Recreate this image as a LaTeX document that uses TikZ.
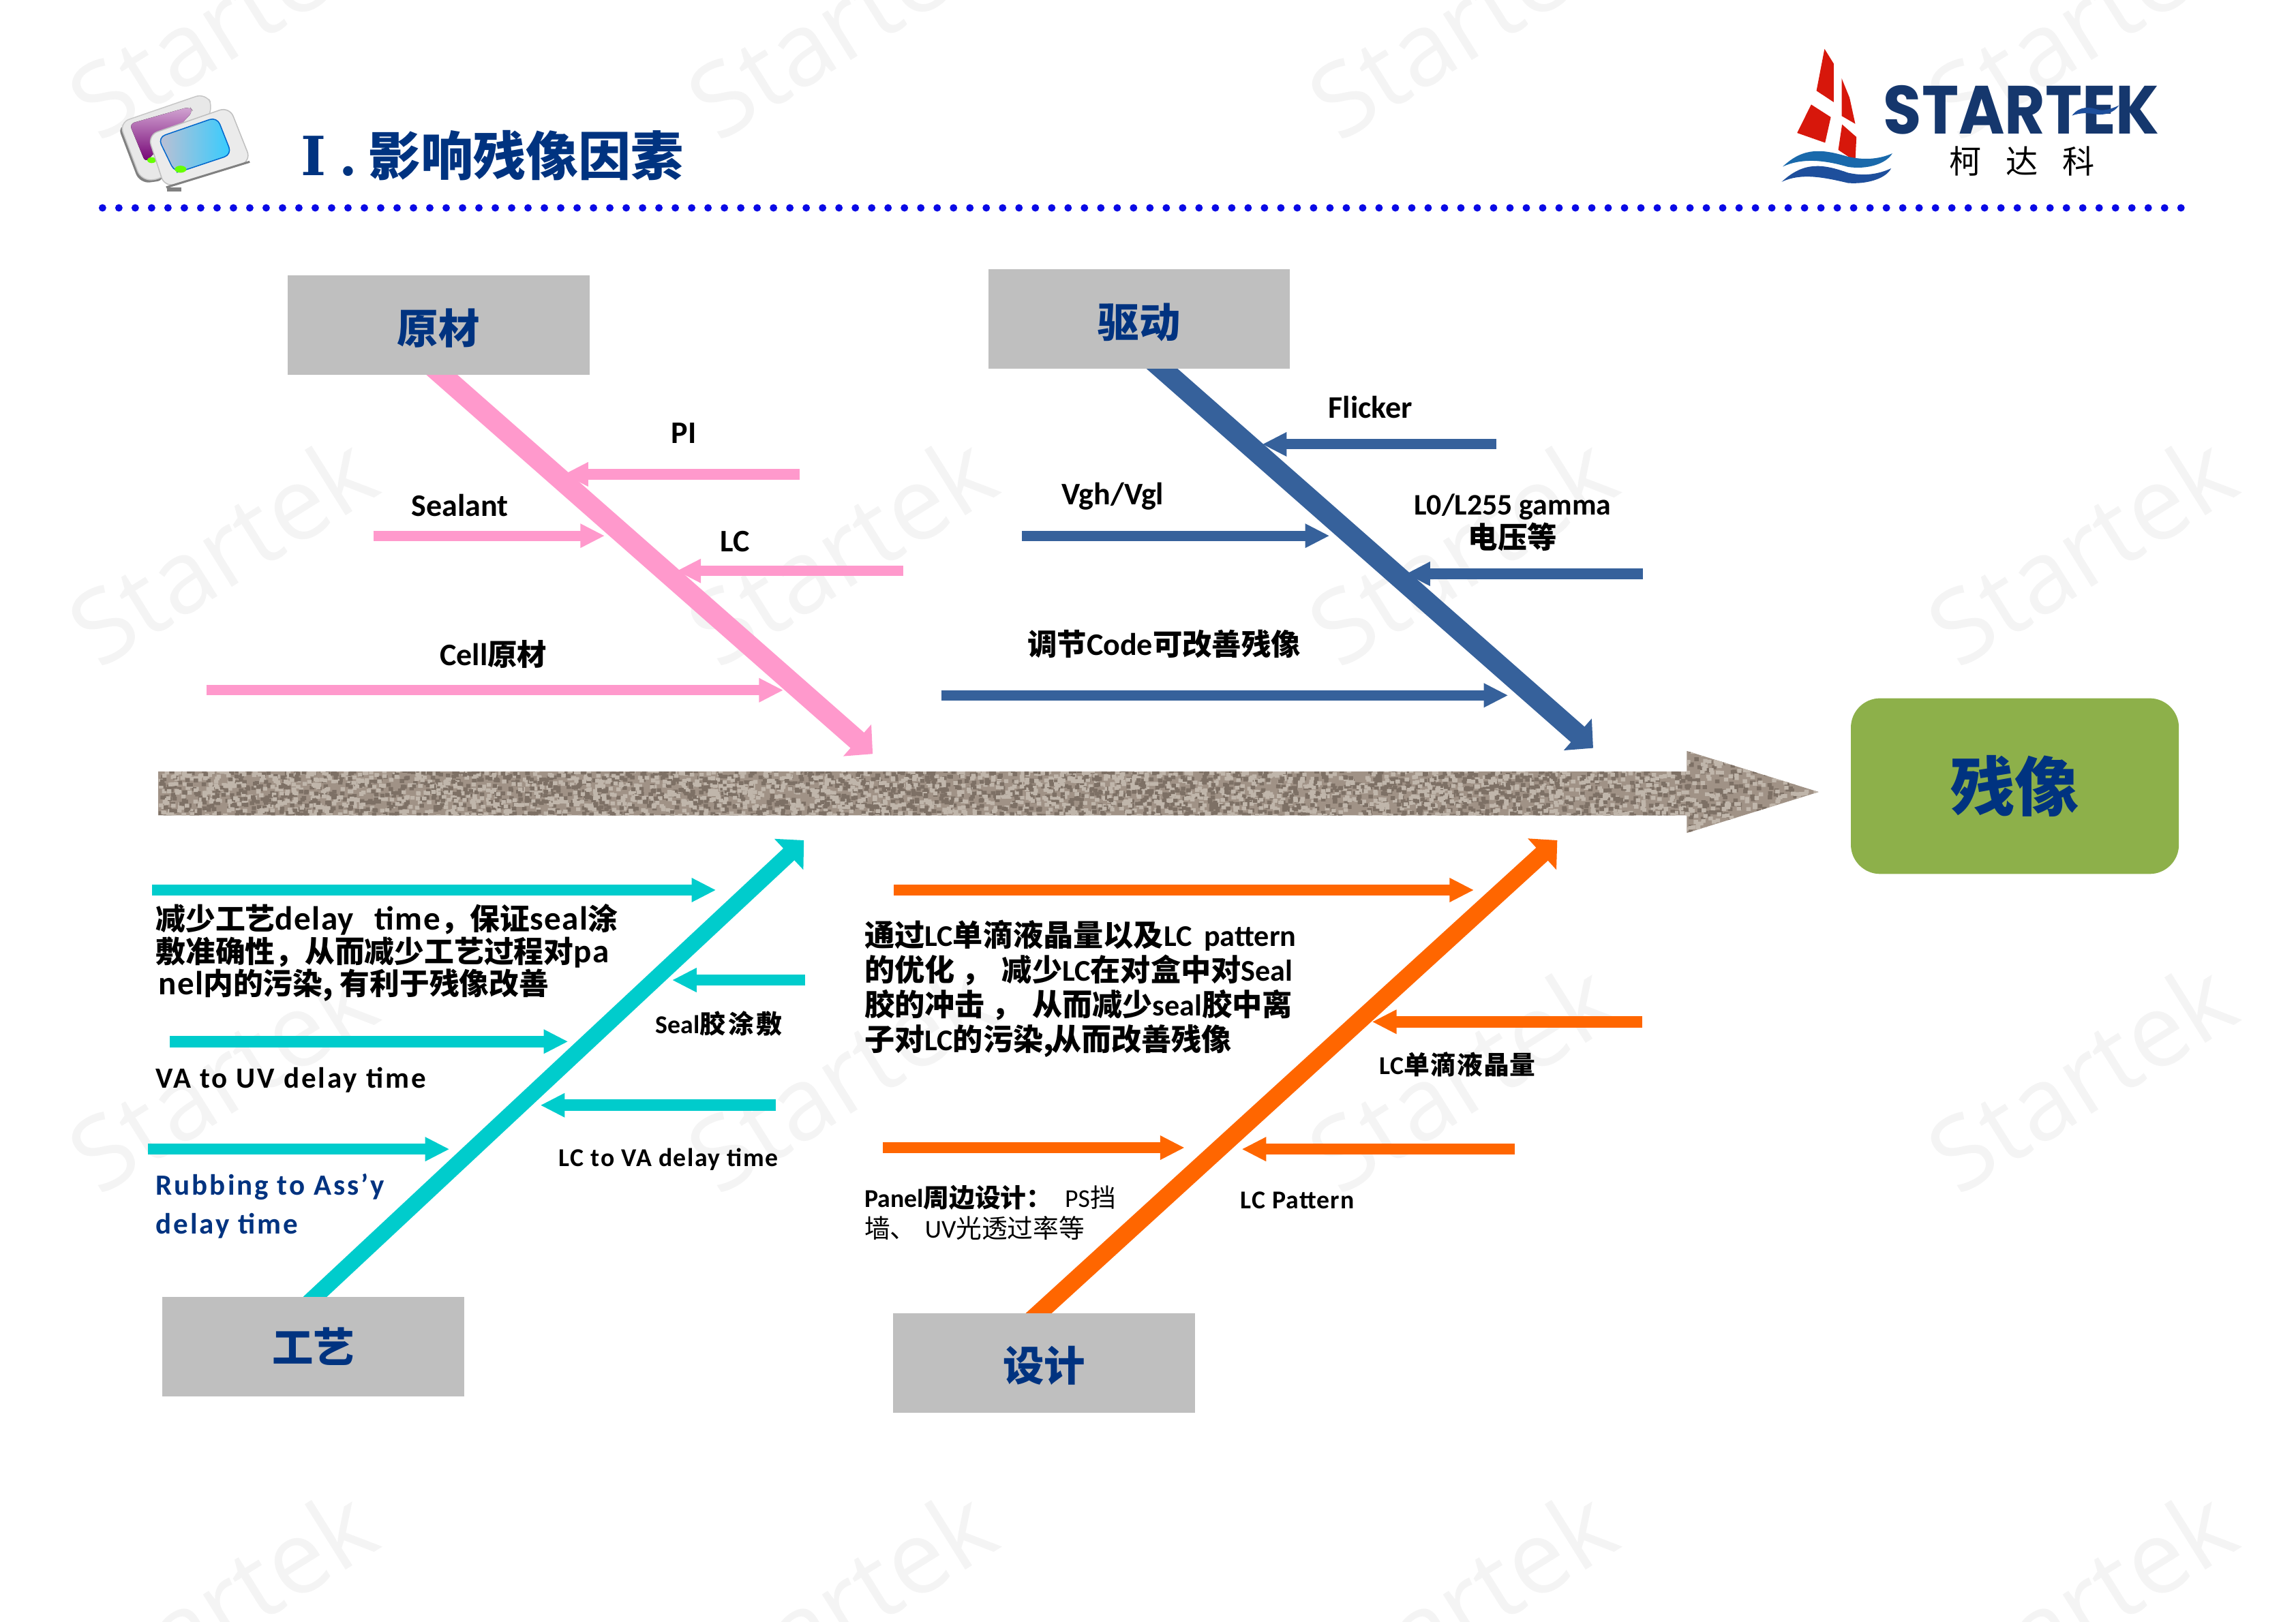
\documentclass[tikz,border=0pt]{standalone}
\usepackage{fontspec}
\setmainfont{Carlito}
\newfontfamily\cjk{Noto Sans CJK SC}
\newfontfamily\wmfont{Open Sans}
\newfontfamily\logofont{Poppins}
\newfontfamily\slabfont{DejaVu Serif}
\usetikzlibrary{arrows.meta,backgrounds}
\newcommand{\zh}[1]{{\cjk #1}}
\newcommand{\zs}[1]{{\cjk\fontsize{11.5pt}{13pt}\selectfont #1}}
\newcommand{\lat}[1]{{\addfontfeature{LetterSpace=3}\fontsize{13pt}{12.6pt}\selectfont #1}}
\newcommand{\wide}{\addfontfeature{LetterSpace=7}}
\definecolor{navy}{HTML}{003380}
\definecolor{boxgray}{HTML}{BFBFBF}
\definecolor{bonepink}{HTML}{FF99CC}
\definecolor{boneblue}{HTML}{36619B}
\definecolor{boneteal}{HTML}{00CCCC}
\definecolor{boneorange}{HTML}{FF6600}
\definecolor{resgreen}{HTML}{8DB04A}
\definecolor{wmgray}{HTML}{F4F4F4}
\definecolor{dotblue}{HTML}{0A0AE6}
\definecolor{stone}{HTML}{A09286}
\definecolor{stonedark}{HTML}{7D7065}
\definecolor{stonelight}{HTML}{C0B6AB}
\definecolor{logoblue}{HTML}{1E4F9C}
\definecolor{logored}{HTML}{D7170B}
\tikzset{
	catbox/.style={fill=boxgray, minimum width=41.2mm, minimum height=13.6mm, inner sep=0pt, text=navy, font=\cjk\bfseries\fontsize{16pt}{18pt}\selectfont},
	catlow/.style={catbox, text height=14.4pt, text depth=0pt},
	bone/.style={line width=#1, -{Triangle[length=8pt,width=16pt]}},
	twig/.style={line width=4.4pt, -{Triangle[length=9.5pt,width=8.8pt]}},
	lbl/.style={inner sep=0pt, font=\bfseries\fontsize{12.2pt}{13pt}\selectfont},
	lblb/.style={inner sep=0pt, font=\bfseries\fontsize{11.4pt}{13pt}\selectfont},
	lblc/.style={inner sep=0pt, font=\bfseries\fontsize{10pt}{12pt}\selectfont},
	para/.style={inner sep=0pt, align=left, anchor=west, font=\bfseries\fontsize{11.6pt}{12.6pt}\selectfont},
	wmark/.style={text=wmgray, font=\wmfont\fontsize{39.5pt}{42pt}\selectfont, rotate=32, inner sep=0pt}
}
\begin{document}
\begin{tikzpicture}[x=0.2mm, y=-0.2mm]
		\useasboundingbox (0,0) rectangle (1568,1108);
		% watermark
		\begin{scope}[on background layer]
		\foreach \x in {151,574,998,1421}
			\foreach \y in {15,375,735,1095}
				\node [wmark] (wm\x\y) at (\x,\y) {Startek};
		\end{scope}
		
		% header
		\fill [rounded corners=4pt, black!50] (80,85) -- (95.4,125.5) -- (114,123) -- (90,86) -- cycle;
		\draw [rounded corners=4pt, draw=black!22, fill=black!9] (81.5,83.8) -- (140.4,63.6) -- (146,74) -- (112,122) -- (96.5,123.5) -- cycle;
		\fill [rounded corners=2pt, top color=violet!35!white, bottom color=violet!90!black] (88.4,84.6) -- (129.6,72.9) -- (131.9,76) -- (103,107) -- (99.3,111) -- cycle;
		\fill [green!60!yellow] (103.6,109.4) circle [x radius=3, y radius=2];
		\fill [black!50] (114,128) rectangle (124,131);
		\draw [rounded corners=4pt, draw=black!25, fill=black!8] (100.9,92.3) -- (156.7,72.9) -- (171.5,110.2) -- (112.5,128) -- cycle;
		\draw [black!50, line width=.8pt] (113.5,128) -- (170.5,110.5);
		\draw [rounded corners=3pt, draw=blue!50!cyan!80!black, left color=blue!30!black!25!white, right color=cyan!75!blue!80!white] (107.8,93.9) -- (148.2,79.9) -- (158.3,105.5) -- (125.7,116.4) -- (119.5,118) -- cycle;
		\fill [green!60!yellow] (123.3,115.6) circle [x radius=4, y radius=2.4];
		\node [anchor=west, inner sep=0pt, text=navy, font=\bfseries\fontsize{20.4pt}{22pt}\selectfont] (title) at (205,106) {{\slabfont\fontsize{21pt}{22pt}\selectfont I}\hspace{5pt}{\slabfont .}\hspace{4.5pt}\zh{影响残像因素}};
		\coordinate (dotsl) at (70,142);
		\coordinate (dotsr) at (1492,142);
		\draw [dotblue, line width=2.9pt, line cap=round, dash pattern=on 0pt off 6.36pt] (dotsl) -- (dotsr);
		
		% logo
		\fill [logored] (1246,33.4) -- (1252.3,43.5) -- (1252.3,69.8) -- (1240.5,62) -- cycle;
		\fill [logored] (1257.7,53.5) -- (1263.1,66.7) -- (1267,84.6) -- (1257.7,79.2) -- cycle;
		\fill [logored] (1236.9,71.4) -- (1250.3,80) -- (1246.4,97.5) -- (1227.3,90.8) -- cycle;
		\fill [logored] (1258,85) -- (1267.8,93.6) -- (1267,110.2) -- (1255.4,102.4) -- cycle;
		\fill [logoblue!85!cyan] (1217.5,113.8) .. controls (1232,100) and (1245,102) .. (1262,107) .. controls (1275,110) and (1285,108) .. (1292.3,104.8) .. controls (1288,112) and (1275,116) .. (1262,114) .. controls (1245,109) and (1230,108) .. (1217.5,113.8) -- cycle;
		\fill [logoblue] (1216.8,124.2) .. controls (1232,110) and (1245,112) .. (1262,118) .. controls (1275,121) and (1285,118) .. (1291.5,115) .. controls (1288,122) and (1275,126) .. (1262,125) .. controls (1245,121) and (1230,118) .. (1216.8,124.2) -- cycle;
		\node [inner sep=0pt, text=logoblue!70!black, font=\logofont\bfseries\fontsize{26.5pt}{28pt}\selectfont] (logotxt) at (1380.5,75) {\scalebox{.915}[1]{STARTEK}};
		\fill [logoblue] (1415,79) .. controls (1420,72) and (1428,73) .. (1433,75) .. controls (1437,76) and (1443,74) .. (1447,72) .. controls (1444,77) and (1437,79) .. (1431,78) .. controls (1426,77) and (1420,77) .. (1415,79) -- cycle;
		\node [inner sep=0pt, font=\cjk\fontsize{12.5pt}{14pt}\selectfont] (logozh) at (1381,110) {柯\hspace{9.5pt}达\hspace{9.5pt}科};
		
		% effect and spine
		\node [fill=resgreen, minimum width=44.8mm, minimum height=24mm, rounded corners=4mm, inner sep=0pt, text=navy, font=\cjk\bfseries\fontsize{25pt}{27pt}\selectfont] (effect) at (1376,537) {残像};
		\begin{scope}
		\clip (108,527) -- (1152,527) -- (1152,513) -- (1242,541) -- (1152,569) -- (1152,557) -- (108,557) -- cycle;
		\fill [stone] (108,510) rectangle (1242,572);
		\pgfmathsetseed{11}
		\foreach \k in {1,...,8}{
			\fill [stonedark] \foreach \i in {1,...,300}{ ({108+1044*rnd},{525+32*rnd}) rectangle ++(3,2.6) };
			\fill [stonelight] \foreach \i in {1,...,300}{ ({108+1044*rnd},{525+32*rnd}) rectangle ++(3,2.6) };
		}
		\fill [stonedark] \foreach \i in {1,...,220}{ ({1150+92*rnd},{511+58*rnd}) rectangle ++(3,2.6) };
		\fill [stonelight] \foreach \i in {1,...,220}{ ({1150+92*rnd},{511+58*rnd}) rectangle ++(3,2.6) };
		\end{scope}
		
		% category boxes
		\node [catlow] (yuancai) at (299.5,222) {原材};
		\node [catlow] (qudong) at (778,218) {驱动};
		\node [catbox] (gongyi) at (214,920) {工艺};
		\node [catlow] (sheji) at (713,931) {设计};
		\coordinate (yuancairoot) at (279,236);
		\coordinate (yuancaitip) at (596,515);
		\coordinate (qudongroot) at (771,232);
		\coordinate (qudongtip) at (1088,511);
		\coordinate (gongyiroot) at (200,900);
		\coordinate (gongyitip) at (549,574);
		\coordinate (shejiroot) at (693,912);
		\coordinate (shejitip) at (1063.5,574);
		
		\begin{scope}[on background layer]
		\draw [bone=8pt, bonepink] (yuancairoot) -- (yuancaitip);
		\draw [bone=8pt, boneblue] (qudongroot) -- (qudongtip);
		\draw [bone=6.3pt, boneteal] (gongyiroot) -- (gongyitip);
		\draw [bone=6.8pt, boneorange] (shejiroot) -- (shejitip);
		\end{scope}
		
		% materials
		\foreach \name/\xa/\xb/\yy in {pi/546/385/324, sealant/255/413/366, lc/617/462/390, cell/141/535/471.5}{
			\coordinate (\name a) at (\xa,\yy);
			\coordinate (\name b) at (\xb,\yy);
			\draw [twig, bonepink, line width=4pt] (\name a) -- (\name b);
		}
		\node [lbl] (pilbl) at (467,296) {PI};
		\node [lbl] (sealantlbl) at (314,345) {Sealant};
		\node [lbl] (lclbl) at (502,370) {LC};
		\node [lbl] (celllbl) at (337,447) {Cell\zs{原材}};
		
		% driving
		\foreach \name/\xa/\xb/\yy in {flicker/1022/862/303.5, vgh/698/908/366, gamma/1122/960/392, code/643/1030/475}{
			\coordinate (\name a) at (\xa,\yy);
			\coordinate (\name b) at (\xb,\yy);
			\draw [twig, boneblue, line width=4pt] (\name a) -- (\name b);
		}
		\node [lbl] (flickerlbl) at (936,278) {Flicker};
		\node [lbl] (vghlbl) at (760,339) {Vgh/Vgl};
		\node [lbl, align=center, font=\bfseries\fontsize{11.6pt}{13pt}\selectfont] (gammalbl) at (1033,357) {L0/L255 gamma\\\zs{电压等}};
		\node [lbl] (codelbl) at (795,440) {\zs{调节}Code\zs{可改善残像}};
		
		% process
		\foreach \name/\xa/\xb/\yy in {delay/104/489/608, uv/116/388/711.5, rub/101/307/785, seal/550/459/669.5, va/530/369/755}{
			\coordinate (\name a) at (\xa,\yy);
			\coordinate (\name b) at (\xb,\yy);
			\draw [twig, boneteal] (\name a) -- (\name b);
		}
		\node [para] (delaytxt) at (106,651) {\zh{减少工艺}\lat{delay}\hspace{.7em}\lat{time}\zh{，保证}\lat{seal}\zh{涂}\\\zh{敷准确性，从而减少工艺过程对}\lat{pa}\\\hspace{1pt}\lat{nel}\zh{内的污染, 有利于残像改善}};
		\node [lblb, anchor=west] (uvlbl) at (106,738) {\wide VA to UV delay time};
		\node [lblb, anchor=west, text=navy, align=left, font=\bfseries\fontsize{11.4pt}{15pt}\selectfont] (rublbl) at (106,824) {\wide Rubbing to Ass'y\\\wide delay time};
		\node [lblc] (seallbl) at (491,699.5) {Seal\zh{胶}\hspace{1pt}\zh{涂}\hspace{1pt}\zh{敷}};
		\node [lblc] (valbl) at (456.5,792) {\addfontfeature{LetterSpace=4}LC to VA delay time};
		
		% design
		\foreach \name/\xa/\xb/\yy in {drop/610.5/1006.6/608, panel/603/809/784, lcd/1121.6/937/698, pat/1034.6/848/785}{
			\coordinate (\name a) at (\xa,\yy);
			\coordinate (\name b) at (\xb,\yy);
			\draw [twig, boneorange] (\name a) -- (\name b);
		}
		\node [para, font=\bfseries\fontsize{11.7pt}{13.5pt}\selectfont] (droptxt) at (590,675.5) {\zh{通过}LC\zh{单滴液晶量以及}LC\hspace{.4em}pattern\\\zh{的优化 ，}\hspace{4pt}\zh{减少}LC\zh{在对盒中对}Seal\\\zh{胶的冲击 ，}\hspace{4pt}\zh{从而减少}seal\zh{胶中离}\\\zh{子对}LC\zh{的污染,}\hspace{-1pt}\zh{从而改善残像}};
		\node [lblc] (lcdlbl) at (995.5,727) {LC\zh{单}\hspace{.3pt}\zh{滴}\hspace{.3pt}\zh{液}\hspace{.3pt}\zh{晶}\hspace{.3pt}\zh{量}};
		\node [para, font=\fontsize{10pt}{12pt}\selectfont] (paneltxt) at (590,828.5) {\textbf{Panel\zh{周边设计：}}\hspace{.5em}PS\zh{挡}\\\zh{墙、}\hspace{3.5pt}UV\zh{光透过率等}};
		\node [lblc] (patlbl) at (886,820) {\addfontfeature{LetterSpace=3}LC Pattern};
\end{tikzpicture}
\end{document}
